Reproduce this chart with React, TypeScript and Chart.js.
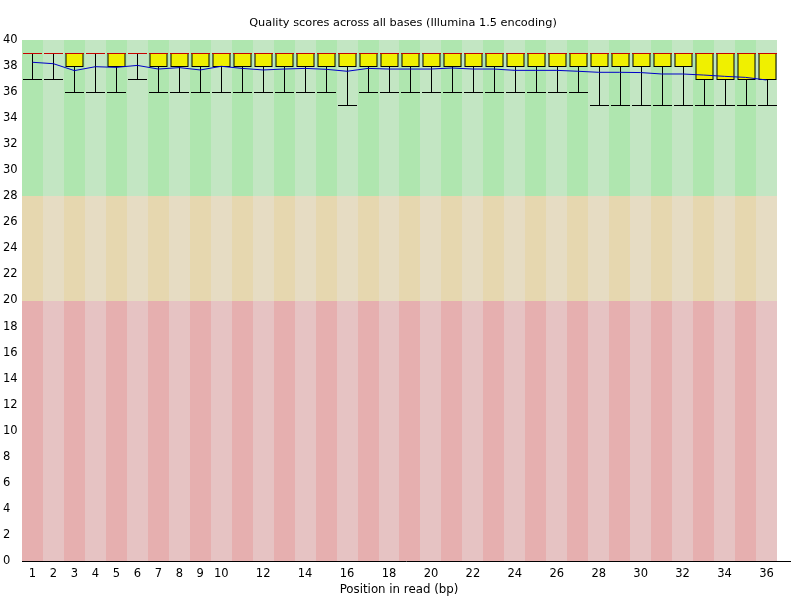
import React, { useEffect, useRef } from "react";
import { Chart, registerables } from "chart.js";

Chart.register(...registerables);

const positions = [1,2,3,4,5,6,7,8,9,10,11,12,13,14,15,16,17,18,19,20,21,22,23,24,25,26,27,28,29,30,31,32,33,34,35,36];
const medians = [39,39,39,39,39,39,39,39,39,39,39,39,39,39,39,39,39,39,39,39,39,39,39,39,39,39,39,39,39,39,39,39,39,39,39,39];
const lowerQuartile = [39,39,38,39,38,39,38,38,38,38,38,38,38,38,38,38,38,38,38,38,38,38,38,38,38,38,38,38,38,38,38,38,37,37,37,37];
const upperQuartile = [39,39,39,39,39,39,39,39,39,39,39,39,39,39,39,39,39,39,39,39,39,39,39,39,39,39,39,39,39,39,39,39,39,39,39,39];
const lowerWhisker = [37,37,36,36,36,37,36,36,36,36,36,36,36,36,36,35,36,36,36,36,36,36,36,36,36,36,36,35,35,35,35,35,35,35,35,35];
const upperWhisker = [39,39,39,39,39,39,39,39,39,39,39,39,39,39,39,39,39,39,39,39,39,39,39,39,39,39,39,39,39,39,39,39,39,39,39,39];
const means = [38.29,38.18,37.65,37.95,37.9,38.05,37.77,37.88,37.7,37.98,37.82,37.7,37.77,37.82,37.75,37.6,37.82,37.77,37.77,37.77,37.85,37.77,37.77,37.67,37.67,37.67,37.6,37.52,37.52,37.5,37.39,37.39,37.31,37.21,37.13,36.93];
const xTickLabels = [1,2,3,4,5,6,7,8,9,10,12,14,16,18,20,22,24,26,28,30,32,34,36];
const qualityBands = [
  { from: 28, to: 40, dark: "rgb(175,230,175)", light: "rgb(195,230,195)" },
  { from: 20, to: 28, dark: "rgb(230,215,175)", light: "rgb(230,220,195)" },
  { from: 0, to: 20, dark: "rgb(230,175,175)", light: "rgb(230,195,195)" },
];
const titleText = "Quality scores across all bases (Illumina 1.5 encoding)";
const xTitleText = "Position in read (bp)";

const FONT = "DejaVu Sans";

const boxPlugin = {
  id: "fastqcBoxes",
  beforeDatasetsDraw(chart: any) {
    const ctx = chart.ctx;
    const xs = chart.scales.x;
    const ys = chart.scales.y;
    ctx.save();
    positions.forEach((p, i) => {
      const x0 = Math.round(xs.getPixelForValue(p - 0.5));
      const x1 = Math.round(xs.getPixelForValue(p + 0.5));
      qualityBands.forEach((b) => {
        const y0 = Math.round(ys.getPixelForValue(b.to));
        const y1 = Math.round(ys.getPixelForValue(b.from));
        ctx.fillStyle = i % 2 === 0 ? b.dark : b.light;
        ctx.fillRect(x0, y0, x1 - x0, y1 - y0);
      });
    });
    const half = 8.5;
    positions.forEach((p, i) => {
      const cx = Math.round(xs.getPixelForValue(p)) + 0.5;
      const yQ1 = Math.round(ys.getPixelForValue(lowerQuartile[i])) + 0.5;
      const yQ3 = Math.round(ys.getPixelForValue(upperQuartile[i])) + 0.5;
      const yLo = Math.round(ys.getPixelForValue(lowerWhisker[i])) + 0.5;
      const yHi = Math.round(ys.getPixelForValue(upperWhisker[i])) + 0.5;
      const yMed = Math.round(ys.getPixelForValue(medians[i])) + 0.5;
      ctx.lineWidth = 1;
      ctx.strokeStyle = "#000";
      ctx.beginPath();
      ctx.moveTo(cx, yLo);
      ctx.lineTo(cx, yQ1);
      ctx.moveTo(cx, yQ3);
      ctx.lineTo(cx, yHi);
      ctx.moveTo(cx - half - 1, yLo);
      ctx.lineTo(cx + half + 1, yLo);
      ctx.moveTo(cx - half - 1, yHi);
      ctx.lineTo(cx + half + 1, yHi);
      ctx.stroke();
      if (yQ1 - yQ3 > 0.5) {
        ctx.fillStyle = "rgb(240,240,0)";
        ctx.fillRect(cx - half, yQ3, half * 2, yQ1 - yQ3);
        ctx.strokeRect(cx - half, yQ3, half * 2, yQ1 - yQ3);
      }
      ctx.strokeStyle = "rgb(200,0,0)";
      ctx.beginPath();
      ctx.moveTo(cx - half - 1, yMed);
      ctx.lineTo(cx + half + 1, yMed);
      ctx.stroke();
    });
    ctx.restore();
  },
  afterDraw(chart: any) {
    const ctx = chart.ctx;
    ctx.save();
    ctx.fillStyle = "#000";
    ctx.textAlign = "center";
    ctx.textBaseline = "middle";
    ctx.font = `11.3px '${FONT}'`;
    ctx.fillText(titleText, 403, 23);
    ctx.font = `11.8px '${FONT}'`;
    ctx.fillText(xTitleText, 399, 590);
    ctx.restore();
  },
};

export default function App() {
  const ref = useRef<HTMLCanvasElement | null>(null);
  useEffect(() => {
    document.body.style.margin = "0";
    const canvas = ref.current;
    if (!canvas) return;
    const chart = new Chart(canvas, {
      type: "line",
      data: {
        datasets: [
          {
            label: "Mean",
            data: positions.map((p, i) => ({ x: p, y: means[i] })),
            borderColor: "rgb(0,0,200)",
            borderWidth: 1,
            pointRadius: 0,
            tension: 0,
            fill: false,
          },
        ],
      },
      options: {
        animation: false,
        responsive: false,
        maintainAspectRatio: false,
        layout: { padding: { top: 40, right: 10, left: 3, bottom: 0 } },
        plugins: {
          legend: { display: false },
          title: { display: false },
          tooltip: { enabled: false },
        },
        scales: {
          x: {
            type: "linear",
            min: 0.5,
            max: 37.12,
            grid: { display: false, drawTicks: false },
            border: { display: true, color: "#000", width: 1 },
            ticks: {
              color: "#000",
              font: { family: FONT, size: 11.5 },
              padding: 6,
              maxRotation: 0,
              autoSkip: false,
            },
            afterBuildTicks: (scale: any) => {
              scale.ticks = xTickLabels.map((v) => ({ value: v }));
            },
            afterFit: (scale: any) => {
              scale.height = 39;
            },
          },
          y: {
            type: "linear",
            min: 0,
            max: 40,
            grid: { display: false, drawTicks: false },
            border: { display: true, color: "#000", width: 1 },
            ticks: {
              stepSize: 2,
              color: "#000",
              font: { family: FONT, size: 11.5 },
              crossAlign: "far",
              padding: 4,
              autoSkip: false,
            },
            afterFit: (scale: any) => {
              scale.width = 19;
            },
          },
        },
      },
      plugins: [boxPlugin],
    });
    return () => chart.destroy();
  }, []);
  return (
    <div style={{ position: "absolute", left: 0, top: 0, width: 800, height: 600, background: "#fff" }}>
      <canvas ref={ref} width={800} height={600} />
    </div>
  );
}
